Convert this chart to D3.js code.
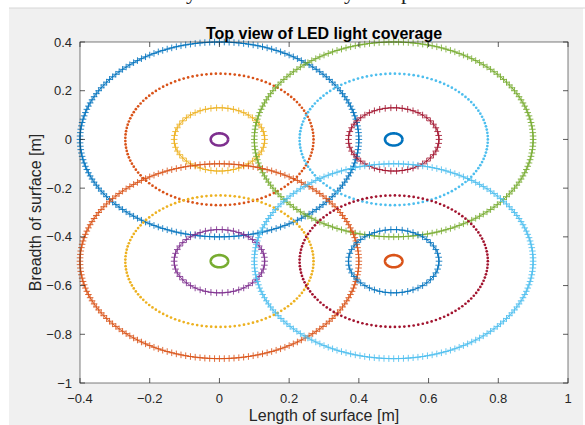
<!DOCTYPE html>
<html>
<head>
<meta charset="utf-8">
<script src="https://cdn.jsdelivr.net/npm/d3@7"></script>
<style>
  html, body { margin: 0; padding: 0; background: #ffffff; }
  svg { display: block; font-family: "Liberation Sans", Arial, Helvetica, sans-serif; }
</style>
</head>
<body>
<svg id="chart" width="585" height="425"></svg>
<script>
// LED positions on the surface (m)
const ledX = [0, 0.5, 0, 0.5];
const ledY = [0, 0, -0.5, -0.5];
// coverage rings drawn around each LED, outermost first (m)
const ringRadii = [0.4, 0.27, 0.13, 0.025];
const ringStyles = ["plus", "dot", "plus", "ring"];
const ringPointCounts = [180, 125, 50, 90];
// tick values
const xTicks = [-0.4, -0.2, 0, 0.2, 0.4, 0.6, 0.8, 1];
const yTicks = [-1, -0.8, -0.6, -0.4, -0.2, 0, 0.2, 0.4];
const palette = ["#0072BD", "#D95319", "#EDB120", "#7E2F8E", "#77AC30", "#4DBEEE", "#A2142F"];

const svg = d3.select("#chart");
const W = 585, H = 425;

// page frame
svg.append("rect").attr("x", 0).attr("y", 0).attr("width", W).attr("height", H).attr("fill", "#ffffff");
svg.append("rect").attr("x", 9).attr("y", 8).attr("width", W - 11).attr("height", H - 8).attr("fill", "#f0f0f0");
svg.append("line").attr("x1", 9).attr("x2", W).attr("y1", 8).attr("y2", 8).attr("stroke", "#d6d6d6");
// descenders of the line of text above the figure
[["y", 186], ["y", 344], ["p", 401]].forEach(([t, px]) => {
  svg.append("text").attr("x", px).attr("y", -1).attr("font-family", "Liberation Serif, serif")
    .attr("font-size", 22).attr("fill", "#222").text(t);
});

const x = d3.scaleLinear().domain([-0.4, 1]).range([80, 568]);
const y = d3.scaleLinear().domain([-1, 0.4]).range([383, 42]);

// axes background
svg.append("rect").attr("x", x(-0.4)).attr("y", y(0.4))
  .attr("width", x(1) - x(-0.4)).attr("height", y(-1) - y(0.4)).attr("fill", "#ffffff");

const plot = svg.append("g");
let colorIdx = 0;
ledX.forEach((cx, i) => {
  const cy = ledY[i];
  ringRadii.forEach((r, j) => {
    const color = palette[colorIdx % palette.length];
    colorIdx++;
    const n = ringPointCounts[j];
    const pts = d3.range(n + 1).map(k => {
      const t = 2 * Math.PI * k / n;
      return [cx + r * Math.cos(t), cy + r * Math.sin(t)];
    });
    const line = d3.line().x(d => x(d[0])).y(d => y(d[1]));
    const style = ringStyles[j];
    if (style === "ring") {
      plot.append("path").attr("d", line(pts)).attr("fill", "none")
        .attr("stroke", color).attr("stroke-width", 2.6);
    } else if (style === "dot") {
      plot.append("g").selectAll("circle").data(pts.slice(0, n)).join("circle")
        .attr("cx", d => x(d[0])).attr("cy", d => y(d[1])).attr("r", 1.35)
        .attr("fill", color);
    } else {
      plot.append("path").attr("d", line(pts)).attr("fill", "none")
        .attr("stroke", color).attr("stroke-width", 0.9);
      const s = 3.3;
      plot.append("path").attr("fill", "none").attr("stroke", color).attr("stroke-width", 1)
        .attr("stroke-opacity", 0.85)
        .attr("d", pts.slice(0, n).map(d => {
          const px = x(d[0]), py = y(d[1]);
          return `M${px - s},${py}H${px + s}M${px},${py - s}V${py + s}`;
        }).join(""));
    }
  });
});

// box and ticks
const axisColor = "#262626";
const tickLen = 5;
const box = svg.append("g");
box.append("rect").attr("x", x(-0.4)).attr("y", y(0.4))
  .attr("width", x(1) - x(-0.4)).attr("height", y(-1) - y(0.4))
  .attr("fill", "none").attr("stroke", axisColor).attr("stroke-width", 0.8).attr("stroke-opacity", 0.75);
xTicks.forEach(v => {
  box.append("line").attr("x1", x(v)).attr("x2", x(v)).attr("y1", y(-1)).attr("y2", y(-1) - tickLen)
    .attr("stroke", axisColor).attr("stroke-opacity", 0.75);
  box.append("line").attr("x1", x(v)).attr("x2", x(v)).attr("y1", y(0.4)).attr("y2", y(0.4) + tickLen)
    .attr("stroke", axisColor).attr("stroke-opacity", 0.75);
  svg.append("text").attr("x", x(v)).attr("y", 403).attr("text-anchor", "middle")
    .attr("font-size", 13).attr("fill", axisColor).text(d3.format("")(v));
});
yTicks.forEach(v => {
  box.append("line").attr("x1", x(-0.4)).attr("x2", x(-0.4) + tickLen).attr("y1", y(v)).attr("y2", y(v))
    .attr("stroke", axisColor).attr("stroke-opacity", 0.75);
  box.append("line").attr("x1", x(1)).attr("x2", x(1) - tickLen).attr("y1", y(v)).attr("y2", y(v))
    .attr("stroke", axisColor).attr("stroke-opacity", 0.75);
  svg.append("text").attr("x", 72).attr("y", y(v) + 4.5).attr("text-anchor", "end")
    .attr("font-size", 13).attr("fill", axisColor).text(d3.format("")(v));
});

// labels
svg.append("text").attr("x", (x(-0.4) + x(1)) / 2).attr("y", 39).attr("text-anchor", "middle")
  .attr("font-size", 16).attr("font-weight", "bold").attr("fill", "#000").text("Top view of LED light coverage");
svg.append("text").attr("x", (x(-0.4) + x(1)) / 2).attr("y", 421).attr("text-anchor", "middle")
  .attr("font-size", 16).attr("fill", axisColor).text("Length of surface [m]");
svg.append("text").attr("transform", `translate(41,${(y(0.4) + y(-1)) / 2}) rotate(-90)`)
  .attr("text-anchor", "middle").attr("font-size", 16).attr("fill", axisColor).text("Breadth of surface [m]");
</script>
</body>
</html>
